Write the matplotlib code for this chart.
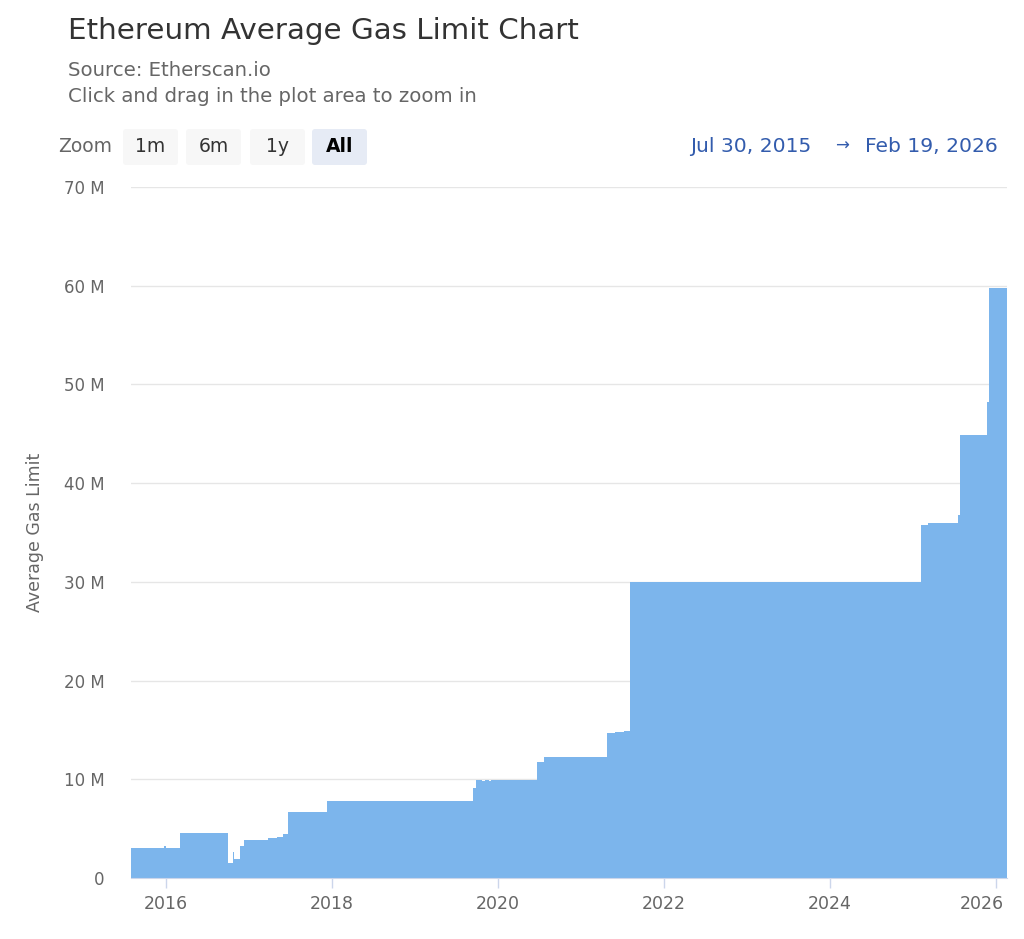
import matplotlib
matplotlib.use("Agg")
import matplotlib.pyplot as plt
import matplotlib.dates as mdates
import matplotlib.patches as mpatches
import matplotlib.transforms as mtransforms
import numpy as np
import pandas as pd

# date each gas limit level starts, and the level (in millions of gas)
change_dates = [
    "2015-07-30", "2015-12-22", "2015-12-29", "2016-03-01", "2016-10-01",
    "2016-10-21", "2016-10-26", "2016-11-20", "2016-12-08", "2017-03-24",
    "2017-04-14", "2017-05-04", "2017-05-29", "2017-06-22", "2017-12-10",
    "2019-09-14", "2019-09-24", "2019-10-21", "2019-11-04", "2019-11-24",
    "2019-12-02", "2020-06-20", "2020-07-23", "2021-04-25", "2021-05-29",
    "2021-07-10", "2021-08-03", "2025-02-05", "2025-03-09", "2025-07-18",
    "2025-07-28", "2025-11-21", "2025-11-30",
]
gas_limit_m = [
    3.0, 3.2, 3.0, 4.6, 1.5,
    2.6, 1.9, 3.2, 3.9, 4.05,
    4.1, 4.2, 4.5, 6.65, 7.8,
    9.1, 9.95, 9.8, 9.95, 9.8,
    9.95, 11.8, 12.3, 14.65, 14.8,
    14.9, 30.0, 35.8, 36.0, 36.8,
    44.9, 48.2, 59.8,
]
start_date = "2015-07-30"
end_date = "2026-02-19"

y_ticks = [0, 10e6, 20e6, 30e6, 40e6, 50e6, 60e6, 70e6]
y_tick_labels = ["0", "10 M", "20 M", "30 M", "40 M", "50 M", "60 M", "70 M"]
zoom_buttons = ["1m", "6m", "1y", "All"]

W, H = 1024, 939
fig = plt.figure(figsize=(W / 100, H / 100), dpi=100)
plt.rcParams['font.family'] = ['DejaVu Sans']

ax = fig.add_axes([131 / W, (H - 878) / H, 876 / W, 691 / H])

x = pd.to_datetime(change_dates + [end_date])
y = np.array(gas_limit_m + [gas_limit_m[-1]]) * 1e6
ax.fill_between(x, 0, y, step='post', color='#7cb5ec', lw=0)

ax.set_xlim(pd.to_datetime(start_date), pd.to_datetime(end_date))
ax.set_ylim(0, 70e6)
ax.set_yticks(y_ticks)
ax.set_yticklabels(y_tick_labels)
ax.yaxis.grid(True, color='#e6e6e6', lw=1)
ax.set_axisbelow(True)
ax.xaxis.set_major_locator(mdates.YearLocator(2))
ax.xaxis.set_major_formatter(mdates.DateFormatter('%Y'))

for s in ['top', 'right', 'left']:
    ax.spines[s].set_visible(False)
ax.spines['bottom'].set_color('#ccd6eb')
ax.tick_params(axis='y', length=0, pad=19, labelsize=12, labelcolor='#666666')
ax.tick_params(axis='x', length=7, width=1, color='#ccd6eb', pad=5,
               labelsize=12.5, labelcolor='#666666')
ax.set_ylabel('Average Gas Limit', fontsize=12.5, color='#666666', labelpad=14)

# keep the last year label inside the chart, like the original
fig.canvas.draw()
last_lab = ax.get_xticklabels()[-1]
last_lab.set_transform(last_lab.get_transform() +
                       mtransforms.ScaledTranslation(-0.14, 0, fig.dpi_scale_trans))

# header texts
fig.text(68 / W, 1 - 31 / H, 'Ethereum Average Gas Limit Chart', fontsize=21.2,
         color='#333333', va='center', ha='left')
fig.text(68 / W, 1 - 70 / H, 'Source: Etherscan.io', fontsize=14.2,
         color='#666666', va='center', ha='left')
fig.text(68 / W, 1 - 96 / H, 'Click and drag in the plot area to zoom in',
         fontsize=14.2, color='#666666', va='center', ha='left')

# range selector buttons
fig.text(58 / W, 1 - 147 / H, 'Zoom', fontsize=13.5, color='#666666',
         va='center', ha='left')
btn_left = [123, 186, 250, 312]
for i, lab in enumerate(zoom_buttons):
    sel = lab == 'All'
    box = mpatches.FancyBboxPatch((btn_left[i] / 100, (H - 165) / 100),
                                  55 / 100, 36 / 100,
                                  boxstyle='round,pad=0,rounding_size=0.03',
                                  transform=fig.dpi_scale_trans,
                                  facecolor='#e6ebf5' if sel else '#f7f7f7',
                                  edgecolor='none')
    fig.patches.append(box)
    fig.text((btn_left[i] + 27.5) / W, 1 - 147 / H, lab, fontsize=13.5,
             color='#000000' if sel else '#333333',
             fontweight='bold' if sel else 'normal', va='center', ha='center')

fig.text(690 / W, 1 - 147 / H, 'Jul 30, 2015', fontsize=14.6, color='#335cad',
         va='center', ha='left')
fig.text(842 / W, 1 - 146 / H, '→', fontsize=12, color='#335cad',
         va='center', ha='center')
fig.text(998 / W, 1 - 147 / H, 'Feb 19, 2026', fontsize=14.6, color='#335cad',
         va='center', ha='right')

fig.savefig('out.png', dpi=100, facecolor='white')
